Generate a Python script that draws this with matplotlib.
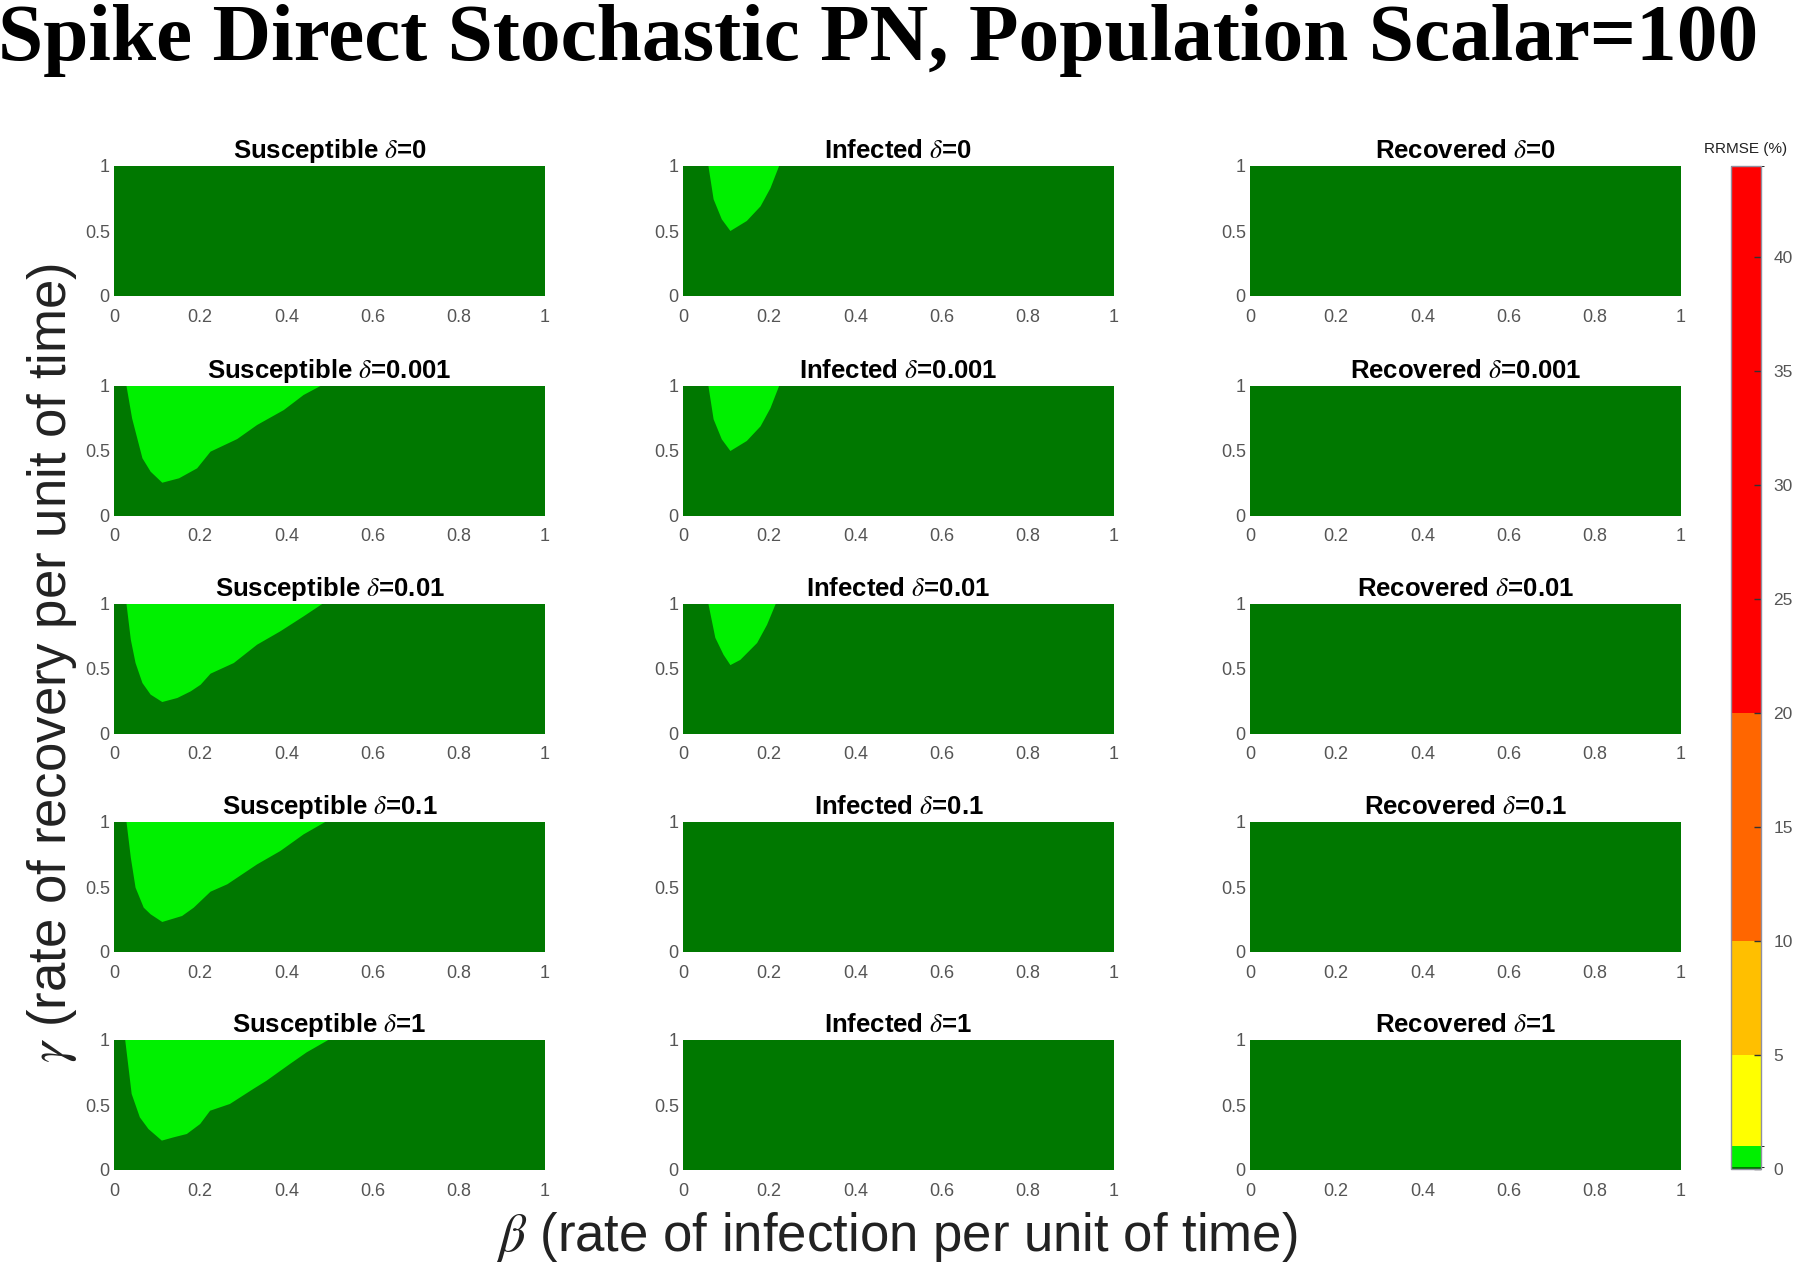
import matplotlib
matplotlib.use("Agg")
import matplotlib.pyplot as plt
from matplotlib import font_manager
from matplotlib.colors import ListedColormap, BoundaryNorm
from matplotlib.cm import ScalarMappable

plt.rcParams['mathtext.fontset'] = 'stix'

# ---- data ----
populations = ['Susceptible', 'Infected', 'Recovered']
deltas = ['0', '0.001', '0.01', '0.1', '1']

# boundary of the low-error (light green) region, beta -> gamma
sus_beta_0001 = [0.029, 0.042, 0.054, 0.066, 0.085, 0.112, 0.151, 0.193, 0.224, 0.286, 0.332, 0.394, 0.44, 0.479]
sus_gamma_0001 = [1.0, 0.751, 0.597, 0.444, 0.341, 0.256, 0.290, 0.367, 0.495, 0.592, 0.700, 0.815, 0.931, 1.0]
sus_beta_001 = [0.029, 0.039, 0.050, 0.066, 0.085, 0.112, 0.147, 0.178, 0.201, 0.224, 0.278, 0.332, 0.386, 0.44, 0.483]
sus_gamma_001 = [1.0, 0.726, 0.546, 0.392, 0.303, 0.246, 0.277, 0.328, 0.379, 0.464, 0.546, 0.687, 0.790, 0.905, 1.0]
sus_beta_01 = [0.029, 0.039, 0.050, 0.069, 0.085, 0.112, 0.158, 0.185, 0.224, 0.263, 0.332, 0.386, 0.44, 0.49]
sus_gamma_01 = [1.0, 0.726, 0.495, 0.341, 0.290, 0.231, 0.277, 0.341, 0.464, 0.521, 0.674, 0.777, 0.905, 1.0]
sus_beta_1 = [0.026, 0.041, 0.060, 0.080, 0.111, 0.138, 0.169, 0.200, 0.223, 0.269, 0.323, 0.354, 0.408, 0.447, 0.497]
sus_gamma_1 = [1.0, 0.585, 0.405, 0.315, 0.226, 0.251, 0.277, 0.354, 0.456, 0.508, 0.623, 0.687, 0.815, 0.905, 1.0]

inf_beta_0 = [0.059, 0.071, 0.090, 0.110, 0.148, 0.180, 0.203, 0.223]
inf_gamma_0 = [1.0, 0.744, 0.590, 0.500, 0.577, 0.690, 0.830, 1.0]
inf_beta_0001 = [0.059, 0.071, 0.090, 0.110, 0.148, 0.180, 0.203, 0.223]
inf_gamma_0001 = [1.0, 0.744, 0.590, 0.500, 0.577, 0.690, 0.830, 1.0]
inf_beta_001 = [0.059, 0.075, 0.094, 0.110, 0.133, 0.172, 0.195, 0.215]
inf_gamma_001 = [1.0, 0.740, 0.610, 0.530, 0.570, 0.700, 0.840, 1.0]

regions = {
    (0, 1): (sus_beta_0001, sus_gamma_0001),
    (0, 2): (sus_beta_001, sus_gamma_001),
    (0, 3): (sus_beta_01, sus_gamma_01),
    (0, 4): (sus_beta_1, sus_gamma_1),
    (1, 0): (inf_beta_0, inf_gamma_0),
    (1, 1): (inf_beta_0001, inf_gamma_0001),
    (1, 2): (inf_beta_001, inf_gamma_001),
}

cbar_levels = [0, 0.1, 1, 5, 10, 20, 44]
cbar_colors = ['#007800', '#00f000', '#ffff00', '#ffbf00', '#ff6600', '#ff0000']
cbar_ticks = [0, 5, 10, 15, 20, 25, 30, 35, 40]
x_ticks = [0, 0.2, 0.4, 0.6, 0.8, 1]
x_ticklabels = ['0', '0.2', '0.4', '0.6', '0.8', '1']
y_ticks = [0, 0.5, 1]
y_ticklabels = ['0', '0.5', '1']

# ---- fonts ----
names = {f.name for f in font_manager.fontManager.ttflist}
narrow = 'Liberation Sans Narrow' if 'Liberation Sans Narrow' in names else 'Liberation Sans'

W, H = 1800, 1269
fig = plt.figure(figsize=(W / 100, H / 100), dpi=100)

col_left = [114, 683, 1250]
row_top = [166, 386, 604, 822, 1040]
ax_w, ax_h = 431, 130
dark = cbar_colors[0]
light = cbar_colors[1]
tick_gray = '#555555'

for c, pop in enumerate(populations):
    for r, d in enumerate(deltas):
        ax = fig.add_axes([col_left[c] / W, 1 - (row_top[r] + ax_h) / H, ax_w / W, ax_h / H])
        ax.set_facecolor(dark)
        if (c, r) in regions:
            bx, gy = regions[(c, r)]
            ax.fill(bx, gy, color=light, lw=0)
        ax.set_xlim(0, 1)
        ax.set_ylim(0, 1)
        ax.set_xticks(x_ticks)
        ax.set_xticklabels(x_ticklabels)
        ax.set_yticks(y_ticks)
        ax.set_yticklabels(y_ticklabels)
        ax.tick_params(axis='x', length=0, labelsize=13, labelcolor=tick_gray, pad=9)
        ax.tick_params(axis='y', length=0, labelsize=13, labelcolor=tick_gray, pad=3)
        for lab in ax.get_xticklabels() + ax.get_yticklabels():
            lab.set_family('Liberation Sans')
        for s in ax.spines.values():
            s.set_visible(False)
        ax.set_title(pop + r' $\delta$=' + d, fontsize=18.5, fontweight='bold',
                     family='Liberation Sans', pad=6)

# colorbar
cmap = ListedColormap(cbar_colors)
norm = BoundaryNorm(cbar_levels, cmap.N)
cax = fig.add_axes([1731 / W, 1 - 1169 / H, 30 / W, (1169 - 166) / H])
cb = fig.colorbar(ScalarMappable(norm=norm, cmap=cmap), cax=cax,
                  spacing='proportional', ticks=cbar_ticks)
cb.outline.set_edgecolor('#9090a0')
cb.outline.set_linewidth(1)
cax.tick_params(direction='in', length=5, width=1, color='#333333',
                labelsize=12.5, labelcolor=tick_gray, pad=9)
for lab in cax.get_yticklabels():
    lab.set_family('Liberation Sans')
fig.text(1746 / W, 1 - 149 / H, 'RRMSE (%)', ha='center', va='center',
         fontsize=11, family='Liberation Sans', color='#222222')

# axis labels
fig.text(52 / W, 1 - 663 / H, r'$\gamma$ (rate of recovery per unit of time)',
         rotation=90, ha='center', va='center', fontsize=38, family=narrow, color='#222222')
fig.text(897 / W, 1 - 1237 / H, r'$\beta$ (rate of infection per unit of time)',
         ha='center', va='center', fontsize=38, family=narrow, color='#222222')

# title
fig.text(-2 / W, 1 - 60 / H, 'Spike Direct Stochastic PN, Population Scalar=100',
         ha='left', va='baseline', fontsize=58.5, fontweight='bold', family='Liberation Serif')

fig.savefig('out.png', dpi=100)
